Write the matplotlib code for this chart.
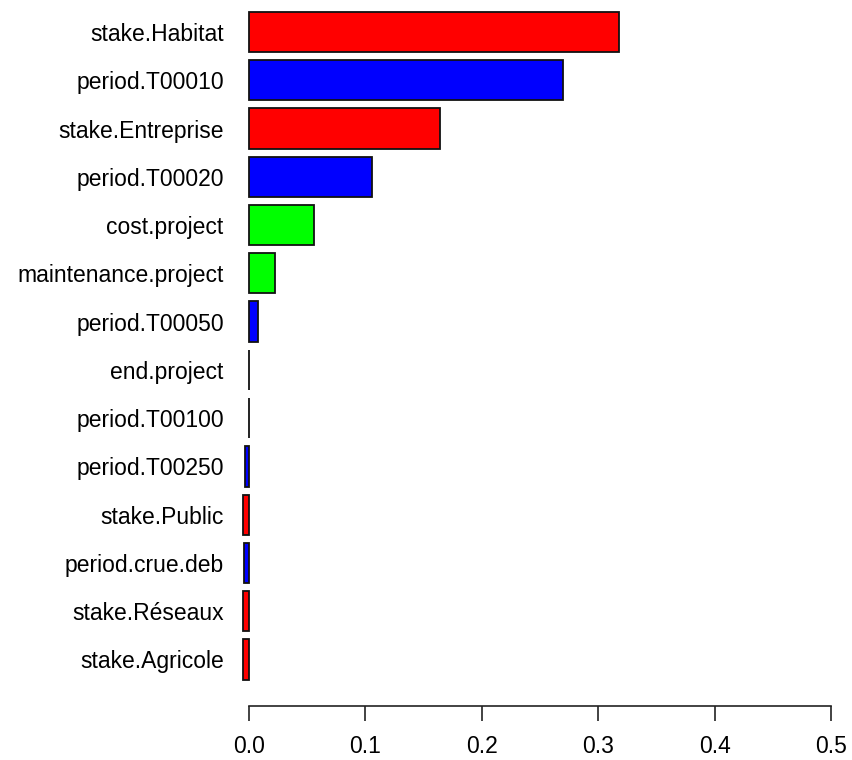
import matplotlib
matplotlib.use("Agg")
import matplotlib.pyplot as plt

plt.rcParams['font.family'] = ['Liberation Sans', 'DejaVu Sans']

# Variable importance, listed from top to bottom
variables = [
    "stake.Habitat", "period.T00010", "stake.Entreprise", "period.T00020",
    "cost.project", "maintenance.project", "period.T00050", "end.project",
    "period.T00100", "period.T00250", "stake.Public", "period.crue.deb",
    "stake.Réseaux", "stake.Agricole",
]
importance = [
    0.318, 0.270, 0.164, 0.106,
    0.056, 0.0228, 0.008, 0.0004,
    0.0004, -0.0032, -0.0048, -0.0042,
    -0.0045, -0.0048,
]
groups = [
    "stake", "period", "stake", "period",
    "project", "project", "period", "project",
    "period", "period", "stake", "period",
    "stake", "stake",
]
group_colors = {"stake": "#FF0000", "period": "#0000FF", "project": "#00FF00"}
xticks = [0.0, 0.1, 0.2, 0.3, 0.4, 0.5]
xtick_labels = ["0.0", "0.1", "0.2", "0.3", "0.4", "0.5"]

W, H = 853, 760
fig = plt.figure(figsize=(W / 100, H / 100), dpi=100)

# axes placement in pixels
x0_px, px_per_unit = 248.7, 1165.0
xlim = (-0.02, 0.52)
left_px = x0_px + xlim[0] * px_per_unit
right_px = x0_px + xlim[1] * px_per_unit
bottom_px = 705.7
ypx = 40.22
ylim = (-0.45, -0.45 + bottom_px / ypx)

ax = fig.add_axes([left_px / W, (H - bottom_px) / H,
                   (right_px - left_px) / W, bottom_px / H])

n = len(variables)
ypos = [0.7 + 1.2 * (n - 1 - i) for i in range(n)]
colors = [group_colors[g] for g in groups]
ax.barh(ypos, importance, height=1.0, color=colors,
        edgecolor="#111111", linewidth=1.3)

ax.set_xlim(*xlim)
ax.set_ylim(*ylim)

for s in ("top", "right", "left"):
    ax.spines[s].set_visible(False)
ax.spines["bottom"].set_bounds(0, 0.5)
ax.spines["bottom"].set_linewidth(1.2)
ax.spines["bottom"].set_color("#222222")

ax.set_xticks(xticks)
ax.set_xticklabels(xtick_labels, fontsize=16.5)
ax.tick_params(axis="x", length=11, width=1.2, color="#222222", pad=10)

ax.set_yticks(ypos)
ax.set_yticklabels(variables, fontsize=16.5)
ax.tick_params(axis="y", length=0, pad=1.2)

fig.savefig("out.png", dpi=100)
